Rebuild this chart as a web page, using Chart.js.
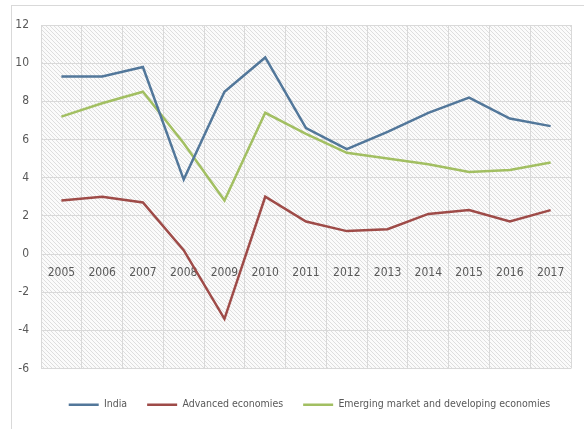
<!DOCTYPE html>
<html>
<head>
<meta charset="utf-8">
<script src="https://cdn.jsdelivr.net/npm/chart.js@4/dist/chart.umd.min.js"></script>
<style>
  html, body { margin: 0; padding: 0; background: #fff; }
  #wrap { position: relative; width: 584px; height: 429px; }
  #frame { position: absolute; left: 11px; top: 5px; right: -2px; bottom: -2px; border: 1px solid #d9d9d9; }
  canvas { position: absolute; left: 0; top: 0; }
</style>
</head>
<body>
<div id="wrap">
  <div id="frame"></div>
  <canvas id="lineChart" width="584" height="429"></canvas>
</div>
<script>
// chart data
const years = ['2005', '2006', '2007', '2008', '2009', '2010', '2011', '2012', '2013', '2014', '2015', '2016', '2017'];
const india = [9.3, 9.3, 9.8, 3.9, 8.5, 10.3, 6.6, 5.5, 6.4, 7.4, 8.2, 7.1, 6.7];
const advanced = [2.8, 3.0, 2.7, 0.2, -3.4, 3.0, 1.7, 1.2, 1.3, 2.1, 2.3, 1.7, 2.3];
const emerging = [7.2, 7.9, 8.5, 5.8, 2.8, 7.4, 6.3, 5.3, 5.0, 4.7, 4.3, 4.4, 4.8];
const yMin = -6, yMax = 12, yStep = 2;

const font = "'DejaVu Sans Condensed', 'Liberation Sans Narrow', Roboto, sans-serif";
const textColor = '#595959';

// diagonal hatch for the plot area
function makeHatch(ctx) {
  const c = document.createElement('canvas');
  c.width = 4; c.height = 4;
  const p = c.getContext('2d');
  p.fillStyle = '#fbfbfb';
  p.fillRect(0, 0, 4, 4);
  p.strokeStyle = '#dedede';
  p.lineWidth = 1;
  p.beginPath();
  p.moveTo(-1, -1); p.lineTo(5, 5);
  p.moveTo(-1, 3); p.lineTo(1, 5);
  p.moveTo(3, -1); p.lineTo(5, 1);
  p.stroke();
  return ctx.createPattern(c, 'repeat');
}

const hatchPlugin = {
  id: 'hatch',
  beforeDraw(chart) {
    const { ctx, chartArea: a } = chart;
    ctx.save();
    ctx.fillStyle = makeHatch(ctx);
    ctx.fillRect(a.left, a.top, a.right - a.left, a.bottom - a.top);
    ctx.restore();
  }
};

const chart = new Chart(document.getElementById('lineChart'), {
  type: 'line',
  data: {
    labels: years,
    datasets: [
      { label: 'India', data: india, borderColor: '#52779a', backgroundColor: '#52779a' },
      { label: 'Advanced economies', data: advanced, borderColor: '#9e4b48', backgroundColor: '#9e4b48' },
      { label: 'Emerging market and developing economies', data: emerging, borderColor: '#a2bf62', backgroundColor: '#a2bf62' }
    ].map(d => Object.assign(d, { borderWidth: 2.5, pointRadius: 0, tension: 0, fill: false, pointStyle: 'line' }))
  },
  options: {
    responsive: false,
    animation: false,
    layout: { padding: { left: 12, top: 25, right: 13, bottom: 9 } },
    plugins: {
      legend: {
        position: 'bottom',
        labels: {
          usePointStyle: true,
          pointStyleWidth: 30,
          color: textColor,
          font: { family: font, size: 10.5 },
          padding: 20,
          boxHeight: 10
        }
      },
      tooltip: { enabled: false }
    },
    scales: {
      x: {
        position: { y: 0 },
        offset: true,
        grid: { color: '#d9d9d9', offset: true, drawTicks: false },
        border: { display: false },
        ticks: { color: textColor, font: { family: font, size: 12 }, padding: 12, maxRotation: 0 }
      },
      // empty bottom axis, only keeps a gap above the legend
      gap: {
        type: 'category',
        position: 'bottom',
        grid: { display: false },
        border: { display: false },
        ticks: { display: false },
        afterFit(scale) { scale.height = 11; }
      },
      y: {
        min: yMin,
        max: yMax,
        grid: { color: '#d9d9d9', drawTicks: false },
        border: { display: false },
        ticks: { stepSize: yStep, color: textColor, font: { family: font, size: 12 }, padding: 12 },
        afterFit(scale) { scale.width = 29; }
      }
    }
  },
  plugins: [hatchPlugin]
});

// legend sits a bit right of centre in the original
const legendDraw = chart.legend.draw;
chart.legend.draw = function () {
  const ctx = this.ctx;
  ctx.save();
  ctx.translate(18, 0);
  legendDraw.apply(this, arguments);
  ctx.restore();
};
chart.draw();
</script>
</body>
</html>
